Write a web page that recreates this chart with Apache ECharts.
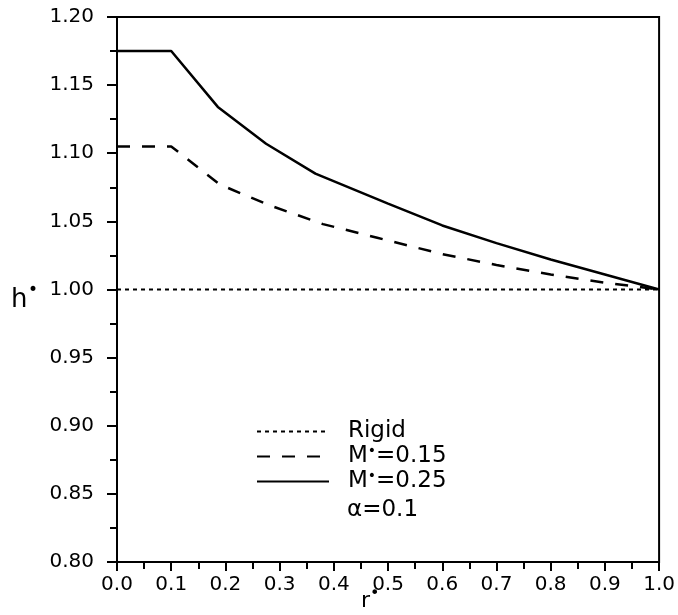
<!DOCTYPE html>
<html>
<head>
<meta charset="utf-8">
<script src="https://cdn.jsdelivr.net/npm/echarts@6/dist/echarts.min.js"></script>
<style>html,body{margin:0;padding:0;background:#fff}#c{width:678px;height:615px}</style>
</head>
<body>
<div id="c"></div>
<script>
// Data
var rigidX = [0.0, 1.0];
var rigidY = [1.0, 1.0];
var m15X = [0.0, 0.1, 0.19, 0.28, 0.38, 0.48, 0.6, 0.7, 0.8, 0.9, 1.0];
var m15Y = [1.105, 1.105, 1.077, 1.062, 1.048, 1.038, 1.026, 1.018, 1.011, 1.005, 1.0];
var m25X = [0.0, 0.1, 0.186, 0.275, 0.366, 0.5, 0.6, 0.7, 0.8, 0.9, 1.0];
var m25Y = [1.175, 1.175, 1.134, 1.107, 1.085, 1.063, 1.047, 1.034, 1.022, 1.011, 1.0];
var seriesNames = ['Rigid', 'M*=0.15', 'M*=0.25'];
var noteText = '\u03b1=0.1';
var xLabelName = 'r';
var yLabelName = 'h';

function pairs(xs, ys) { return xs.map(function (x, i) { return [x, ys[i]]; }); }

var FONT = 'DejaVu Sans';
var chart = echarts.init(document.getElementById('c'));
chart.setOption({
  animation: false,
  backgroundColor: '#fff',
  grid: { left: 117, right: 16, top: 17, bottom: 53, show: true, borderColor: '#000', borderWidth: 2, backgroundColor: 'transparent' },
  xAxis: {
    type: 'value', min: 0, max: 1, interval: 0.1,
    axisLine: { lineStyle: { color: '#000', width: 2 } },
    axisTick: { length: 9, lineStyle: { color: '#000', width: 2 } },
    minorTick: { show: true, splitNumber: 2, length: 7, lineStyle: { color: '#000', width: 2 } },
    splitLine: { show: false },
    axisLabel: { margin: 13, color: '#000', fontFamily: FONT, fontSize: 20, formatter: function (v) { return v.toFixed(1); } }
  },
  yAxis: {
    type: 'value', min: 0.8, max: 1.2, interval: 0.05,
    axisLine: { lineStyle: { color: '#000', width: 2 } },
    axisTick: { length: 10, lineStyle: { color: '#000', width: 2 } },
    minorTick: { show: true, splitNumber: 2, length: 7, lineStyle: { color: '#000', width: 2 } },
    splitLine: { show: false },
    axisLabel: { margin: 23, color: '#000', fontFamily: FONT, fontSize: 20, formatter: function (v) { return v.toFixed(2); } }
  },
  legend: {
    orient: 'vertical', left: 256, top: 419, padding: 0, itemGap: 0, itemWidth: 72, itemHeight: 14,
    data: seriesNames,
    itemStyle: { opacity: 0 },
    formatter: function (name) { return name.replace('*', '{s|\u2022}'); },
    textStyle: {
      color: '#000', fontFamily: FONT, fontSize: 23, lineHeight: 25, padding: [0, 0, 0, 14],
      rich: { s: { fontSize: 14, verticalAlign: 'top', lineHeight: 14, padding: [0, 0, 6, 0], color: '#000' } }
    }
  },
  graphic: [
    { type: 'text', left: 347, top: 499, style: { text: noteText, font: '23px "DejaVu Sans"', fill: '#000' } },
    { type: 'text', left: 11, top: 287, style: { text: yLabelName, font: '26px "DejaVu Sans"', fill: '#000' } },
    { type: 'text', left: 28, top: 282, style: { text: '\u2022', font: '17px "DejaVu Sans"', fill: '#000' } },
    { type: 'text', left: 361, top: 590, style: { text: xLabelName, font: '22px "DejaVu Sans"', fill: '#000' } },
    { type: 'text', left: 370, top: 586, style: { text: '\u2022', font: '16px "DejaVu Sans"', fill: '#000' } }
  ],
  series: [
    { name: seriesNames[0], type: 'line', data: pairs(rigidX, rigidY), symbol: 'none', lineStyle: { color: '#000', width: 2, type: [4, 4] }, itemStyle: { color: '#000' } },
    { name: seriesNames[1], type: 'line', data: pairs(m15X, m15Y), symbol: 'none', lineStyle: { color: '#000', width: 2.5, type: [13, 12] }, itemStyle: { color: '#000' } },
    { name: seriesNames[2], type: 'line', data: pairs(m25X, m25Y), symbol: 'none', lineStyle: { color: '#000', width: 2.5, type: 'solid' }, itemStyle: { color: '#000' } }
  ]
});
</script>
</body>
</html>
